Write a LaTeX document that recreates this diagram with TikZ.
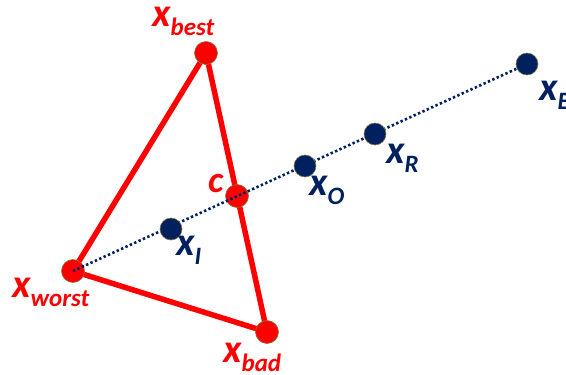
\documentclass[tikz,border=0pt]{standalone}
\usepackage{fontspec}
\setmainfont{Carlito}
\definecolor{navy}{HTML}{002060}
\definecolor{ptborder}{RGB}{130,120,70}
\newcommand\xsub[1]{{\fontsize{40}{40}\selectfont x}\raisebox{-9pt}{\fontsize{25}{25}\selectfont #1}}
\begin{document}
\begin{tikzpicture}[x=1pt,y=-1pt,
  redpt/.style={circle, fill=red, draw=ptborder, line width=0.6pt, minimum size=23pt, inner sep=0pt},
  bluept/.style={circle, fill=navy, draw=ptborder, line width=0.6pt, minimum size=22pt, inner sep=0pt},
  edge/.style={draw=red, line width=5.5pt},
  ray/.style={draw=navy, line width=2.6pt, dash pattern=on 2.4pt off 2.4pt},
  lbl/.style={anchor=base west, inner sep=0pt, font=\bfseries\itshape}]
\useasboundingbox (0,0) rectangle (566,375);
% coordinates of points
\coordinate (pbest) at (206,53);
\coordinate (pworst) at (73,271);
\coordinate (pbad) at (267,332);
\coordinate (pc) at (237,196);
% triangle edges
\draw[edge] (pworst) -- (pbest) -- (pbad) -- cycle;
% red points
\node[redpt] (best) at (pbest) {};
\node[redpt] (worst) at (pworst) {};
\node[redpt] (bad) at (pbad) {};
\node[redpt] (c) at (pc) {};
% dotted ray
\coordinate (pE) at (527,64);
\draw[ray] (worst.center) -- (pE);
% blue points
\node[bluept] (I) at (171,229) {};
\node[bluept] (O) at (305,166) {};
\node[bluept] (R) at (375,134) {};
\node[bluept] (E) at (pE) {};
% labels
\node[lbl, text=red] (lbest) at (152,26) {\xsub{best}};
\node[lbl, text=red] (lworst) at (12,297) {\xsub{worst}};
\node[lbl, text=red] (lbad) at (223,362) {\xsub{bad}};
\node[lbl, text=red] (lc) at (208,192) {\fontsize{37}{37}\selectfont c};
\node[lbl, text=navy] (lI) at (176,255) {\xsub{I}};
\node[lbl, text=navy] (lO) at (309,195) {\xsub{O}};
\node[lbl, text=navy] (lR) at (386,163) {\xsub{R}};
\node[lbl, text=navy] (lE) at (539,100) {\xsub{E}};
\end{tikzpicture}
\end{document}
